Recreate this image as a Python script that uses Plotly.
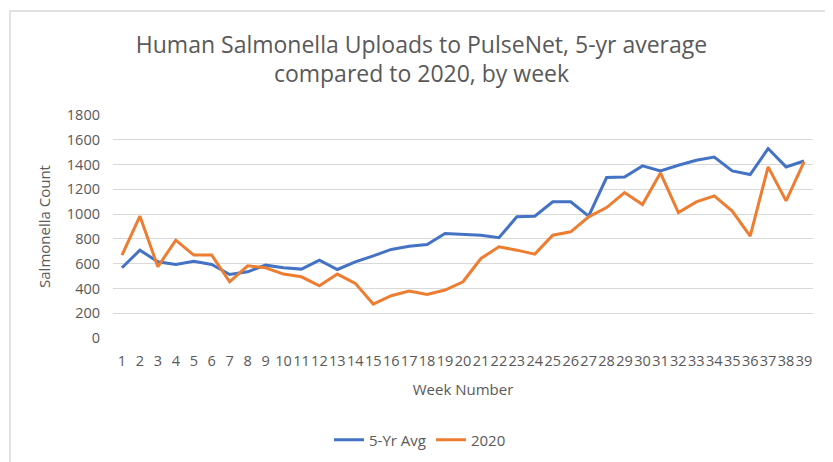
import plotly.graph_objects as go

weeks = list(range(1, 40))
avg_5yr = [567, 709, 615, 594, 620, 594, 513, 534, 588, 567,
           556, 629, 553, 615, 663, 715, 741, 755, 844, 836,
           830, 809, 978, 983, 1099, 1099, 983, 1295, 1300, 1389,
           1349, 1394, 1435, 1461, 1349, 1319, 1529, 1381, 1429]
y2020 = [669, 983, 575, 790, 669, 669, 454, 583, 567, 516,
         494, 422, 516, 441, 274, 341, 379, 352, 387, 454,
         642, 736, 709, 677, 830, 857, 978, 1053, 1174, 1077,
         1332, 1013, 1099, 1147, 1024, 822, 1381, 1107, 1421]
y_ticks = [0, 200, 400, 600, 800, 1000, 1200, 1400, 1600, 1800]

# page body has an 8px default margin; work in viewport pixels and shift
OFF = 8
W, H = 833, 462
L = 113 - OFF
T = 115 - OFF
pw, ph = 700, 223
R = W - L - pw
B = H - T - ph

def px_x(p):
    return (p - OFF - L) / pw

def px_y(p):
    return (H - B - (p - OFF)) / ph

FONT = "Open Sans"
GREY = "#595959"

fig = go.Figure()
fig.add_trace(go.Scatter(x=weeks, y=avg_5yr, mode="lines", name="5-Yr Avg",
                         line=dict(color="#4472C4", width=3)))
fig.add_trace(go.Scatter(x=weeks, y=y2020, mode="lines", name="2020",
                         line=dict(color="#ED7D31", width=3)))

fig.update_layout(
    width=W, height=H,
    margin=dict(l=L, r=R, t=T, b=B, autoexpand=False),
    paper_bgcolor="white", plot_bgcolor="white",
    font=dict(family=FONT, color=GREY),
    title=dict(text="Human Salmonella Uploads to PulseNet, 5-yr average<br>compared to 2020, by week",
               x=px_x(421.5), xref="paper", xanchor="center",
               y=1 - (52.5 - OFF) / H, yref="container", yanchor="middle",
               font=dict(size=23, color=GREY, family=FONT)),
    showlegend=True,
    legend=dict(orientation="h", x=px_x(420), xanchor="center",
                y=px_y(440), yanchor="middle", font=dict(size=15, color=GREY),
                bgcolor="rgba(0,0,0,0)"),
    xaxis=dict(range=[0.5, 39.5], tickmode="array", tickvals=weeks,
               ticktext=[str(w) for w in weeks], tickangle=0, automargin=False,
               showgrid=False, zeroline=False, showline=False,
               tickfont=dict(size=14.5, color=GREY), ticklabelstandoff=12,
               title=dict(text="Week Number", font=dict(size=15, color=GREY), standoff=15)),
    yaxis=dict(range=[0, 1800], tickvals=y_ticks, showgrid=True, automargin=False,
               gridcolor="#d9d9d9", gridwidth=1, zeroline=False, showline=False,
               tickfont=dict(size=14.5, color=GREY), ticklabelstandoff=12,
               title=dict(text="Salmonella Count", font=dict(size=15, color=GREY), standoff=12)),
    shapes=[dict(type="rect", xref="paper", yref="paper",
                 x0=px_x(10), x1=px_x(832), y0=px_y(480), y1=px_y(11),
                 line=dict(color="#d9d9d9", width=1.5), fillcolor="rgba(0,0,0,0)", layer="below")],
)

fig.write_html("out.html")
